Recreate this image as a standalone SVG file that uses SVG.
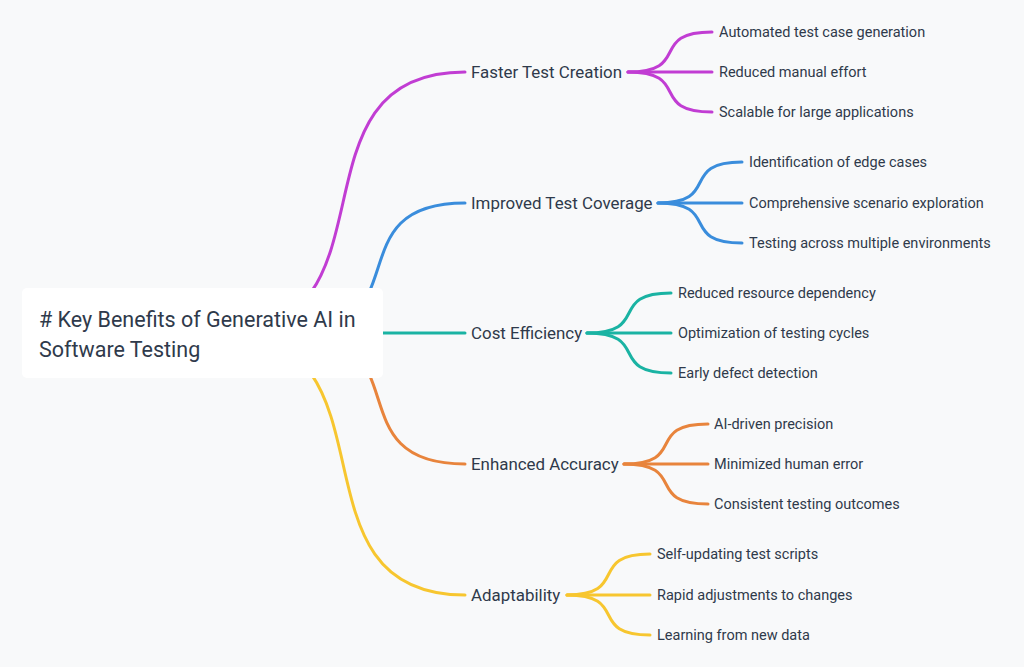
<svg xmlns="http://www.w3.org/2000/svg" width="1024" height="667" viewBox="0 0 1024 667">
<style>
.c{fill:none;stroke-width:3;stroke-linecap:round}
.t{font-family:Roboto,"Noto Sans",sans-serif;fill:#2f3a4b}
.b{font-size:16.9px}
.s{font-size:14.5px}
.r{font-size:21.5px}
</style>
<rect width="1024" height="667" fill="#f8f9fa"/>
<g id="connectors">
<g stroke="#c13dd3" class="c">
<path d="M221 333 C406 333 280 72 465 72"/>
<path d="M628 72 C692 72 648 32 712 32"/>
<path d="M628 72 H712"/>
<path d="M628 72 C692 72 648 112 712 112"/>
</g>
<g stroke="#3a8ddc" class="c">
<path d="M291 333 C423 333 333 203 465 203"/>
<path d="M658 203 C722 203 678 162 742 162"/>
<path d="M658 203 H742"/>
<path d="M658 203 C722 203 678 243 742 243"/>
</g>
<g stroke="#1ab3a3" class="c">
<path d="M221 333 H465"/>
<path d="M587 333 C651 333 607 293 671 293"/>
<path d="M587 333 H671"/>
<path d="M587 333 C651 333 607 373 671 373"/>
</g>
<g stroke="#e8843c" class="c">
<path d="M291 333 C423 333 333 464 465 464"/>
<path d="M624 464 C688 464 644 424 708 424"/>
<path d="M624 464 H708"/>
<path d="M624 464 C688 464 644 504 708 504"/>
</g>
<g stroke="#f7c62f" class="c">
<path d="M221 333 C406 333 280 595 465 595"/>
<path d="M567 595 C630 595 587 554 650 554"/>
<path d="M567 595 H650"/>
<path d="M567 595 C630 595 587 635 650 635"/>
</g>
</g>
<g id="root">
<rect x="22" y="288" width="361" height="90" rx="5" fill="#ffffff"/>
<text class="t r" x="39" y="327"># Key Benefits of Generative AI in</text>
<text class="t r" x="39" y="357">Software Testing</text>
</g>
<g id="faster">
<text class="t b" x="471" y="78">Faster Test Creation</text>
<text class="t s" x="719" y="37">Automated test case generation</text>
<text class="t s" x="719" y="77">Reduced manual effort</text>
<text class="t s" x="719" y="117">Scalable for large applications</text>
</g>
<g id="coverage">
<text class="t b" x="471" y="209">Improved Test Coverage</text>
<text class="t s" x="749" y="167">Identification of edge cases</text>
<text class="t s" x="749" y="208">Comprehensive scenario exploration</text>
<text class="t s" x="749" y="248">Testing across multiple environments</text>
</g>
<g id="cost">
<text class="t b" x="471" y="339">Cost Efficiency</text>
<text class="t s" x="678" y="298">Reduced resource dependency</text>
<text class="t s" x="678" y="338">Optimization of testing cycles</text>
<text class="t s" x="678" y="378">Early defect detection</text>
</g>
<g id="accuracy">
<text class="t b" x="471" y="470">Enhanced Accuracy</text>
<text class="t s" x="714" y="429">AI-driven precision</text>
<text class="t s" x="714" y="469">Minimized human error</text>
<text class="t s" x="714" y="509">Consistent testing outcomes</text>
</g>
<g id="adapt">
<text class="t b" x="471" y="601">Adaptability</text>
<text class="t s" x="657" y="559">Self-updating test scripts</text>
<text class="t s" x="657" y="600">Rapid adjustments to changes</text>
<text class="t s" x="657" y="640">Learning from new data</text>
</g>
</svg>
